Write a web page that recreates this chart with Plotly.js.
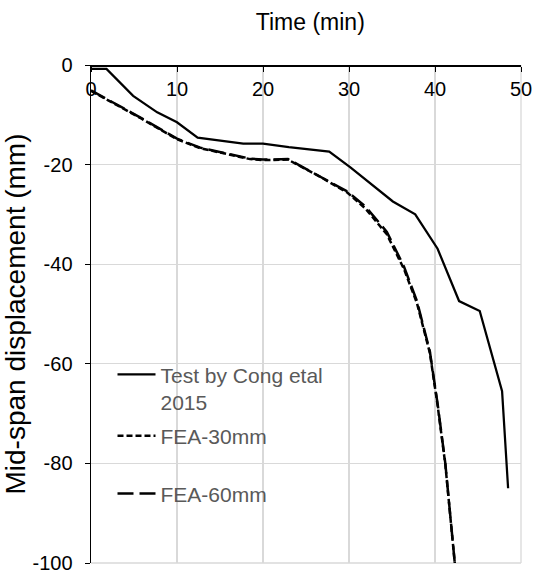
<!DOCTYPE html>
<html>
<head>
<meta charset="utf-8">
<script src="https://cdn.plot.ly/plotly-3.0.1.min.js"></script>
<style>html,body{margin:0;padding:0;background:#fff;}#chart{width:537px;height:573px;}</style>
</head>
<body>
<div id="chart"></div>
<script>
// Test by Cong et al 2015
const testTime = [0, 1.8, 4.9, 7.7, 10, 12.4, 17.7, 20, 23, 27.7, 30.2, 35.1, 37.7, 40.3, 42.8, 45.2, 47.8, 48.5];
const testDisp = [-0.8, -0.8, -6.2, -9.5, -11.5, -14.6, -15.8, -15.8, -16.5, -17.4, -20.6, -27.4, -30, -36.9, -47.4, -49.4, -65.5, -85];
// FEA-30mm
const fea30Time = [0, 2.6, 5.7, 10, 12.7, 18.5, 20, 22.9, 26.6, 29.8, 31.9, 34.4, 36.4, 37.9, 39.4, 40.3, 41.2, 42.3];
const fea30Disp = [-5.2, -7.6, -10.6, -14.9, -16.7, -18.9, -19.1, -19.0, -22.4, -25.6, -28.8, -34.0, -41.0, -47.8, -57.8, -68.3, -80.2, -100];
// FEA-60mm
const fea60Time = [0, 2.6, 5.7, 10, 12.7, 18.5, 20, 22.9, 26.6, 29.8, 31.9, 34.4, 36.4, 37.9, 39.4, 40.3, 41.2, 42.3];
const fea60Disp = [-5.1, -7.5, -10.5, -14.8, -16.6, -18.8, -19, -18.9, -22.3, -25.4, -28.4, -33.5, -40.5, -47.4, -57.5, -68, -80, -100];
const xTicks = [0, 10, 20, 30, 40, 50];
const yTicks = [0, -20, -40, -60, -80, -100];
const seriesNames = ["Test by Cong etal<br>2015", "FEA-30mm", "FEA-60mm"];

const FONT = "Liberation Sans, Arial, sans-serif";
const traces = [
  {x: testTime, y: testDisp, name: seriesNames[0], mode: "lines", legend: "legend",
   line: {color: "#000", width: 2.25, dash: "solid"}},
  {x: fea30Time, y: fea30Disp, name: seriesNames[1], mode: "lines", legend: "legend2",
   line: {color: "#000", width: 2.5, dash: "6px,3px"}},
  {x: fea60Time, y: fea60Disp, name: seriesNames[2], mode: "lines", legend: "legend3",
   line: {color: "#000", width: 2.5, dash: "16px,6px"}}
];
const legBase = {font: {family: FONT, size: 21, color: "#595959"}, bgcolor: "rgba(0,0,0,0)",
  xanchor: "left", yanchor: "top", valign: "top", itemwidth: 38};
const layout = {
  width: 537, height: 573,
  margin: {l: 91, r: 16, t: 65, b: 10},
  paper_bgcolor: "#fff", plot_bgcolor: "#fff",
  font: {family: FONT, size: 20, color: "#000"},
  showlegend: true,
  title: {text: "Time (min)", font: {family: FONT, size: 23, color: "#000"},
          xref: "paper", x: 0.51, xanchor: "center", yref: "container", y: 0.962, yanchor: "middle"},
  xaxis: {
    anchor: "free", position: 1, side: "bottom",
    range: [0, 50], tickvals: xTicks, ticktext: xTicks.map(String),
    ticks: "outside", ticklen: 5, tickcolor: "#000", ticklabelstandoff: 0,
    ticklabeloverflow: "allow",
    showline: true, linecolor: "#000", linewidth: 1.5,
    showgrid: true, gridcolor: "#d9d9d9", gridwidth: 1.3, zeroline: false,
    tickfont: {family: FONT, size: 20, color: "#000"}
  },
  yaxis: {
    range: [-100, 0], tickvals: yTicks, ticktext: yTicks.map(String),
    ticks: "outside", ticklen: 5, tickcolor: "#000", ticklabelstandoff: 8,
    ticklabeloverflow: "allow",
    showline: true, linecolor: "#000", linewidth: 1.5,
    showgrid: true, gridcolor: "#d9d9d9", gridwidth: 1.3, zeroline: false,
    tickfont: {family: FONT, size: 20, color: "#000"},
    title: {text: "Mid-span displacement (mm)", font: {family: FONT, size: 28, color: "#000"}, standoff: 2}
  },
  shapes: [
    {type: "line", xref: "paper", yref: "paper", x0: 1, x1: 1, y0: 0, y1: 1, line: {color: "#d9d9d9", width: 1.3}, layer: "below"},
    {type: "line", xref: "paper", yref: "paper", x0: 0, x1: 1, y0: 0, y1: 0, line: {color: "#d9d9d9", width: 1.3}, layer: "below"}
  ],
  legend: Object.assign({}, legBase, {x: 0.05, y: 0.419}),
  legend2: Object.assign({}, legBase, {x: 0.05, y: 0.296}),
  legend3: Object.assign({}, legBase, {x: 0.05, y: 0.180})
};
Plotly.newPlot("chart", traces, layout, {displayModeBar: false, staticPlot: true});
</script>
</body>
</html>
